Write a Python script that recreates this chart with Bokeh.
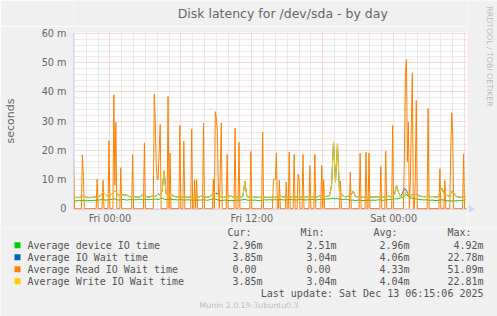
import math
import pandas as pd
from bokeh.plotting import figure
from bokeh.layouts import column, row
from bokeh.models import Range1d, FixedTicker, DatetimeTickFormatter, Grid
from bokeh.core.properties import value
from bokeh.embed import file_html
from bokeh.resources import INLINE

# ---------------- data ----------------
START = "2025-12-11 20:55"
END = "2025-12-13 06:15"
LAST_UPDATE = "Last update: Sat Dec 13 06:15:06 2025"
TITLE = "Disk latency for /dev/sda - by day"
Y_LABEL = "seconds"
VERSION = "Munin 2.0.19-3ubuntu0.3"
WATERMARK = "RRDTOOL / TOBI OETIKER"

X_TICK_TIMES = ["2025-12-12 00:00", "2025-12-12 12:00", "2025-12-13 00:00"]
Y_TICKS = [0, 10, 20, 30, 40, 50, 60]
Y_TICK_LABELS = ["0", "10 m", "20 m", "30 m", "40 m", "50 m", "60 m"]

SERIES_NAMES = ["Average device IO time", "Average IO Wait time",
                "Average Read IO Wait time", "Average Write IO Wait time"]
SERIES_COLORS = ["#00CC00", "#0066B3", "#FF8000", "#FFCC00"]
HEADERS = ["Cur:", "Min:", "Avg:", "Max:"]
CUR = ["2.96m", "3.85m", "0.00", "3.85m"]
MIN = ["2.51m", "3.04m", "0.00", "3.04m"]
AVG = ["2.96m", "4.06m", "4.33m", "4.04m"]
MAX = ["4.92m", "22.78m", "51.09m", "22.81m"]

# 10-minute samples (milliseconds)
device_io = [
    2.7, 2.6, 2.7, 2.8, 2.7, 2.7, 2.8, 2.6, 2.7, 2.7, 2.8, 2.8, 2.9, 2.9, 3.0, 3.1, 2.9, 2.9, 3.0, 3.1,
    3.2, 3.3, 3.0, 2.9, 3.0, 3.1, 3.0, 2.9, 3.0, 3.0, 3.1, 3.0, 3.0, 3.2, 3.1, 3.0, 3.1, 3.1, 3.0, 3.1,
    3.1, 3.2, 3.3, 3.0, 3.4, 3.6, 3.2, 3.1, 3.2, 3.3, 3.1, 3.0, 3.0, 2.9, 3.1, 3.0, 2.9, 2.9, 3.0, 2.9,
    2.9, 2.8, 3.0, 2.8, 2.9, 2.9, 3.0, 2.9, 2.8, 3.0, 3.1, 3.3, 3.2, 3.0, 2.8, 2.7, 2.8, 2.9, 2.8, 2.7,
    2.8, 2.7, 2.8, 2.9, 2.8, 2.9, 3.0, 3.2, 2.9, 2.8, 2.9, 2.8, 2.9, 2.8, 2.7, 2.8, 2.9, 3.0, 2.9, 3.0,
    3.0, 2.9, 3.0, 3.0, 2.9, 3.1, 3.0, 2.9, 3.0, 3.0, 3.1, 3.0, 3.0, 2.9, 3.0, 3.1, 3.0, 3.0, 2.9, 3.0,
    3.0, 3.1, 3.0, 2.9, 3.0, 3.1, 3.1, 3.2, 3.2, 3.3, 3.3, 3.4, 3.5, 3.3, 3.4, 3.2, 3.1, 3.1, 3.2, 3.1,
    2.9, 2.8, 2.9, 2.7, 2.8, 2.9, 2.8, 2.7, 2.8, 2.8, 2.9, 2.8, 2.9, 2.8, 2.9, 3.0, 2.9, 2.8, 2.9, 3.0,
    3.0, 3.1, 3.2, 3.3, 3.3, 3.5, 3.6, 3.8, 4.2, 4.9, 4.1, 3.7, 3.5, 3.4, 3.3, 3.1, 3.0, 3.0, 2.9, 3.0,
    2.9, 2.8, 2.9, 2.8, 2.7, 2.8, 2.9, 3.0, 2.9, 2.8, 2.6, 2.7, 2.6, 2.5, 2.7, 2.6, 2.8, 2.7, 2.8, 3.0,
]
io_wait = [
    3.7, 3.8, 3.7, 3.8, 3.9, 4.5, 3.9, 3.8, 3.7, 3.8, 3.8, 3.9, 3.8, 4.2, 4.6, 5.6, 5.0, 4.3, 4.8, 4.7,
    5.2, 6.0, 5.4, 4.4, 4.5, 4.7, 4.6, 4.7, 4.2, 4.0, 4.2, 4.0, 3.9, 3.9, 4.1, 4.6, 4.5, 4.1, 3.9, 4.0,
    4.3, 4.1, 4.4, 5.0, 4.6, 6.0, 12.9, 5.0, 4.8, 4.9, 4.7, 4.2, 4.0, 4.0, 3.9, 3.9, 4.0, 3.9, 3.8, 3.9,
    3.9, 3.8, 4.0, 3.9, 4.0, 4.3, 4.0, 3.9, 3.8, 4.0, 4.6, 5.6, 5.2, 5.2, 4.6, 3.9, 3.8, 3.9, 4.2, 4.2,
    4.2, 3.9, 3.8, 3.9, 3.8, 3.9, 4.2, 9.3, 4.1, 3.9, 3.8, 3.8, 3.9, 3.8, 3.8, 3.8, 3.8, 3.9, 3.8, 3.8,
    3.8, 3.9, 3.8, 3.9, 4.0, 4.4, 4.0, 3.9, 3.8, 3.9, 3.9, 3.8, 3.9, 3.9, 3.8, 3.9, 3.9, 3.8, 3.9, 4.0,
    4.3, 4.0, 3.9, 3.9, 4.0, 4.4, 4.0, 4.0, 4.1, 4.2, 4.5, 8.0, 22.78, 9.0, 22.2, 6.0, 5.0, 4.3, 4.0, 4.1,
    4.3, 4.8, 6.0, 4.2, 3.9, 3.8, 3.9, 3.8, 3.9, 3.8, 4.0, 3.9, 4.0, 3.9, 4.0, 3.9, 3.8, 3.9, 3.8, 3.9,
    4.3, 4.0, 4.2, 5.0, 7.9, 5.5, 4.2, 5.2, 6.9, 6.2, 4.6, 4.3, 4.8, 4.7, 4.9, 4.6, 4.2, 4.1, 4.0, 4.1,
    4.3, 4.0, 4.1, 4.0, 3.9, 4.0, 5.5, 7.0, 5.2, 5.0, 4.4, 4.2, 5.8, 5.5, 4.3, 4.0, 3.9, 3.8, 3.9, 3.9,
]
write_wait = [
    3.7, 3.8, 3.7, 3.8, 3.9, 4.5, 3.9, 3.8, 3.7, 3.8, 3.8, 3.9, 3.8, 4.2, 4.6, 5.6, 5.0, 4.3, 4.8, 4.7,
    5.2, 6.0, 5.4, 4.4, 4.5, 4.7, 4.6, 4.7, 4.2, 4.0, 4.2, 4.0, 3.9, 3.9, 4.1, 4.6, 4.5, 4.1, 3.9, 4.0,
    4.3, 4.1, 4.4, 5.0, 4.6, 6.0, 12.9, 5.0, 4.8, 4.9, 4.7, 4.2, 4.0, 4.0, 3.9, 3.9, 4.0, 3.9, 3.8, 3.9,
    3.9, 3.8, 4.0, 3.9, 4.0, 4.3, 4.0, 3.9, 3.8, 4.0, 4.6, 5.6, 5.2, 4.4, 4.1, 3.9, 3.8, 3.9, 4.2, 4.2,
    4.2, 3.9, 3.8, 3.9, 3.8, 3.9, 4.2, 9.3, 4.1, 3.9, 3.8, 3.8, 3.9, 3.8, 3.8, 3.8, 3.8, 3.9, 3.8, 3.8,
    3.8, 3.9, 3.8, 3.9, 4.0, 4.4, 4.0, 3.9, 3.8, 3.9, 3.9, 3.8, 3.9, 3.9, 3.8, 3.9, 3.9, 3.8, 3.9, 4.0,
    4.3, 4.0, 3.9, 3.9, 4.0, 4.4, 4.0, 4.0, 4.1, 4.2, 4.5, 8.0, 22.81, 9.0, 22.3, 6.0, 5.0, 4.3, 4.0, 4.1,
    4.3, 4.8, 6.0, 4.2, 3.9, 3.8, 3.9, 3.8, 3.9, 3.8, 4.0, 3.9, 4.0, 3.9, 4.0, 3.9, 3.8, 3.9, 3.8, 3.9,
    4.3, 4.0, 4.2, 5.0, 7.9, 5.5, 4.2, 4.3, 5.0, 5.8, 4.6, 4.3, 4.8, 4.7, 4.9, 4.6, 4.2, 4.1, 4.0, 4.1,
    4.3, 4.0, 4.1, 4.0, 3.9, 4.0, 5.5, 7.0, 5.2, 5.0, 4.4, 4.2, 5.8, 5.5, 4.3, 4.0, 3.9, 3.8, 3.9, 3.9,
]
# 5-minute samples (milliseconds)
read_wait = [
    19, 0, 0, 0, 0, 0, 0, 0, 0, 18.4, 11, 0, 0, 0, 0, 0, 0, 0, 0, 0,
    0, 0, 0, 0, 10, 0, 0, 0, 0, 0, 9.7, 0, 0, 0, 0, 0, 23.3, 0, 0, 0,
    0, 39, 8, 29.6, 0, 0, 0, 0, 14, 0, 0, 0, 0, 0, 0, 0, 0, 0, 0, 0,
    18.5, 0, 0, 0, 0, 0, 0, 0, 0, 0, 0, 0, 22.5, 0, 0, 0, 0, 0, 0, 0,
    0, 0, 39.3, 30, 15, 10, 10, 20, 28.8, 0, 0, 0, 0, 0, 0, 0, 38.4, 0, 19, 0,
    0, 0, 0, 0, 0, 0, 0, 0, 28.5, 0, 0, 0, 23, 0, 0, 0, 0, 0, 0, 0,
    27.3, 0, 0, 9.7, 0, 10, 0, 0, 0, 0, 0, 0, 29.3, 0, 0, 0, 0, 0, 0, 0,
    0, 0, 10, 0, 33.2, 31, 26.4, 8, 0, 12, 29.3, 0, 0, 0, 0, 0, 18.6, 0, 0, 0,
    0, 0, 0, 0, 27.5, 0, 0, 0, 22.7, 0, 0, 0, 0, 0, 0, 0, 0, 0, 0, 0,
    19.5, 0, 0, 0, 0, 0, 0, 0, 0, 0, 0, 0, 26.2, 0, 0, 0, 0, 0, 0, 0,
    0, 0, 0, 10, 10, 10, 19, 0, 0, 9.7, 0, 0, 0, 0, 0, 0, 9, 0, 0, 19.3,
    0, 0, 0, 0, 18.6, 0, 0, 0, 11.7, 10.3, 0, 0, 0, 18.5, 0, 0, 0, 0, 0, 0,
    14.7, 0, 0, 0, 0, 18.6, 0, 0, 0, 0, 0, 0, 14.7, 0, 9.9, 0, 0, 0, 0, 0,
    0, 0, 0, 0, 0, 0, 0, 0, 0, 0, 0, 9.4, 0, 0, 0, 0, 0, 0, 0, 0,
    0, 12.5, 0, 0, 0, 0, 0, 0, 0, 0, 0, 19, 0, 0, 0, 0, 0, 19.3, 0, 0,
    19, 0, 0, 0, 0, 0, 0, 0, 0, 0, 0, 0, 14.4, 0, 0, 0, 0, 19.7, 0, 0,
    0, 0, 0, 0, 28.5, 0, 0, 0, 0, 0, 0, 0, 0, 0, 0, 0, 20, 46.7, 51.09, 16,
    29.6, 0, 10, 30, 46.5, 0, 0, 10, 37, 0, 0, 0, 0, 0, 0, 0, 0, 0, 0, 0,
    34.3, 0, 0, 0, 0, 0, 0, 0, 0, 0, 0, 0, 13.6, 0, 0, 0, 0, 9.6, 0, 0,
    0, 0, 0, 20, 32.8, 25, 0, 0, 0, 0, 0, 0, 0, 0, 0, 0, 18.7, 0, 0, 0,
]

# ---------------- layout constants (canvas px) ----------------
W, H = 497, 316
TOP_H = 26           # title strip height
RIGHT_W = 30         # watermark strip width
MAIN_W = W - RIGHT_W
FL, FT, FB = 67, 32, 209   # frame left / top / bottom
MAIN_H = 227 - TOP_H
LEG_H = H - 227
FONT = "DejaVu Sans"
MONO = "DejaVu Sans Mono"
TXT = "#666666"
LEG_TXT = "#555555"
FAINT = "#BDBDBD"
AXIS_C = "#CFD6F8"
BG = "#F0F0F0"
MAJOR_C = "#F3B4B4"
MINOR_C = "#D6D6D6"


def ms(t):
    return pd.Timestamp(t).value / 1e6


def times(n, freq):
    return [ms(t) for t in pd.date_range(START, periods=n, freq=freq)]


def strip(w, h):
    f = figure(width=w, height=h, x_range=Range1d(0, w), y_range=Range1d(0, h),
               output_backend="svg", toolbar_location=None, title=None,
               x_axis_location=None, y_axis_location=None, min_border=0,
               background_fill_color=BG, border_fill_color=BG, outline_line_color=None)
    f.xgrid.visible = False
    f.ygrid.visible = False
    return f


# ---------------- main chart ----------------
p = figure(width=MAIN_W, height=MAIN_H, x_axis_type="datetime",
           x_range=Range1d(ms(START), ms(END)), y_range=Range1d(-0.343, 60.343),
           output_backend="svg", toolbar_location=None, title=None,
           min_border_left=FL, min_border_right=0,
           min_border_top=FT - TOP_H, min_border_bottom=227 - FB,
           background_fill_color="#FFFFFF", border_fill_color=BG,
           outline_line_color=None)

p.xgrid.visible = False
p.ygrid.visible = False
hours = pd.date_range("2025-12-11 21:00", "2025-12-13 06:00", freq="1h")
major_x = [ms(t) for t in hours if t.hour % 6 == 0]
minor_x = [ms(t) for t in hours if t.hour % 6 != 0]
minor_y = [v for v in range(0, 61, 2) if v % 10 != 0]
for dim, major, minor in ((0, major_x, minor_x), (1, Y_TICKS, minor_y)):
    p.add_layout(Grid(dimension=dim, ticker=FixedTicker(ticks=major, minor_ticks=minor),
                      grid_line_color=MAJOR_C, grid_line_dash="1 1", grid_line_width=1,
                      minor_grid_line_color=MINOR_C, minor_grid_line_dash="1 1"))

fmt = "%a %H:%M"
p.xaxis.ticker = FixedTicker(ticks=[ms(t) for t in X_TICK_TIMES])
p.xaxis.formatter = DatetimeTickFormatter(hours=fmt, hourmin=fmt, days=fmt, months=fmt,
                                          minutes=fmt, minsec=fmt, seconds=fmt, years=fmt)
p.yaxis.ticker = FixedTicker(ticks=Y_TICKS)
p.yaxis.major_label_overrides = {t: l for t, l in zip(Y_TICKS, Y_TICK_LABELS)}
for ax in (p.xaxis, p.yaxis):
    ax.axis_line_color = AXIS_C
    ax.major_tick_line_color = None
    ax.minor_tick_line_color = None
    ax.major_tick_out = 0
    ax.major_tick_in = 0
    ax.minor_tick_out = 0
    ax.minor_tick_in = 0
    ax.major_label_text_font = FONT
    ax.major_label_text_font_size = "9.7px"
    ax.major_label_text_color = TXT
p.xaxis.major_label_standoff = 3
p.yaxis.major_label_standoff = 7
p.yaxis.axis_label = Y_LABEL
p.yaxis.axis_label_text_font = FONT
p.yaxis.axis_label_text_font_size = "11px"
p.yaxis.axis_label_text_font_style = "normal"
p.yaxis.axis_label_text_color = TXT
p.yaxis.axis_label_standoff = 22

# series, in munin's drawing order
p.line(times(len(device_io), "10min"), device_io, line_color=SERIES_COLORS[0], line_width=1)
p.line(times(len(io_wait), "10min"), io_wait, line_color=SERIES_COLORS[1], line_width=1)
p.line(times(len(read_wait), "5min"), read_wait, line_color=SERIES_COLORS[2], line_width=1)
p.line(times(len(write_wait), "10min"), write_wait, line_color=SERIES_COLORS[3], line_width=1)

# ---------------- title strip ----------------
t = strip(MAIN_W, TOP_H)
t.text(x=[248], y=[TOP_H - 13], text=[TITLE], text_font=value(FONT),
       text_font_size=value("12.5px"), text_color=TXT, text_align="center",
       text_baseline="middle")

# ---------------- watermark strip ----------------
wm = strip(RIGHT_W, 227)
wm.text(x=[488.5 - MAIN_W], y=[227 - 56], text=[WATERMARK], text_font=value(FONT),
        text_font_size=value("7.8px"), text_color=FAINT, text_align="center",
        text_baseline="middle", angle=-math.pi / 2)
wm.scatter(x=[470.5 - MAIN_W], y=[227 - 208.5], marker="triangle", size=6,
           angle=-math.pi / 2, fill_color=AXIS_C, line_color=AXIS_C)

# ---------------- legend strip ----------------
q = strip(W, LEG_H)


def qy(Y):
    return H - Y


col_left = [227, 300, 373, 447]
col_right = [262, 336, 409, 483]
row_y = [245, 257, 269, 281]
NBSP = "\u00a0"

q.text(x=col_left, y=[qy(232)] * 4, text=HEADERS, text_font=value(MONO),
       text_font_size=value("10px"), text_color=LEG_TXT, text_align="left",
       text_baseline="middle")
q.rect(x=[17] * 4, y=[qy(y - 0.3) for y in row_y], width=6, height=6,
       fill_color=SERIES_COLORS, line_color=None)
q.text(x=[27] * 4, y=[qy(y) for y in row_y], text=SERIES_NAMES, text_font=value(MONO),
       text_font_size=value("10px"), text_color=LEG_TXT, text_align="left",
       text_baseline="middle")
for x, col in zip(col_right, (CUR, MIN, AVG, MAX)):
    cells = [v if v[-1].isalpha() else v + NBSP for v in col]
    q.text(x=[x] * 4, y=[qy(y) for y in row_y], text=cells, text_font=value(MONO),
           text_font_size=value("10px"), text_color=LEG_TXT, text_align="right",
           text_baseline="middle")
q.text(x=[483], y=[qy(293)], text=[LAST_UPDATE], text_font=value(MONO),
       text_font_size=value("10px"), text_color=LEG_TXT, text_align="right",
       text_baseline="middle")
q.text(x=[248.5], y=[qy(305)], text=[VERSION], text_font=value(FONT),
       text_font_size=value("7.8px"), text_color=FAINT, text_align="center",
       text_baseline="middle")

layout = column(row(column(t, p), wm), q)
open("out.html", "w").write(file_html(layout, INLINE))
